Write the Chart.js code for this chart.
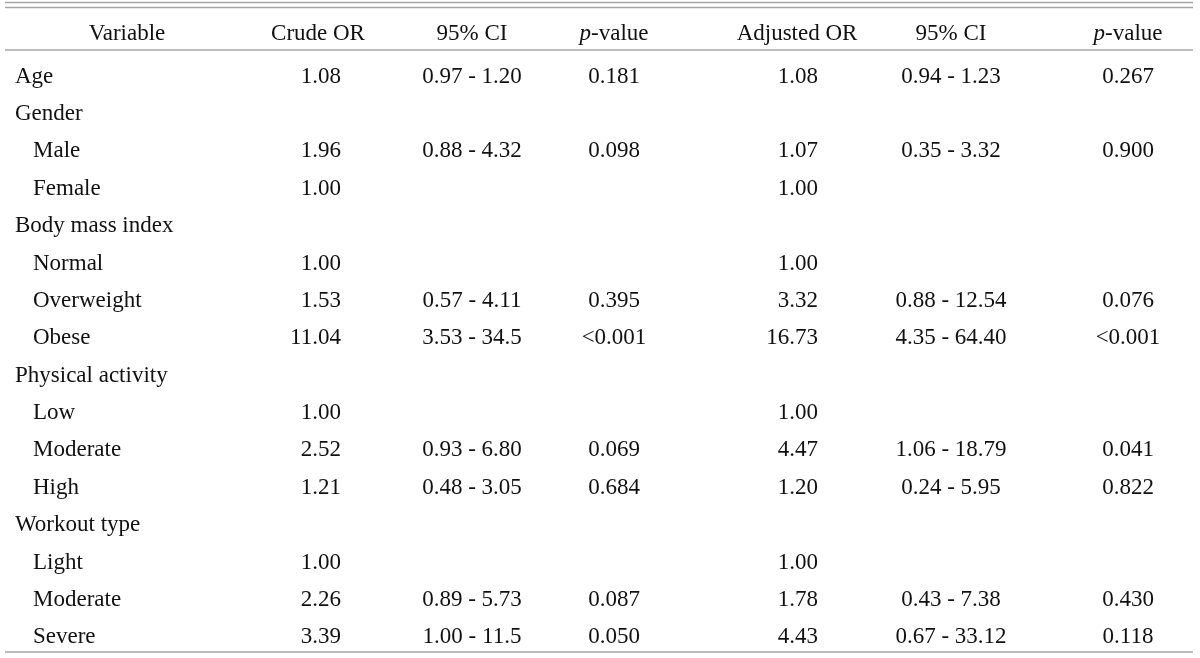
<!DOCTYPE html>
<html>
<head>
<meta charset="utf-8">
<script src="https://cdn.jsdelivr.net/npm/chart.js@4/dist/chart.umd.min.js"></script>
<style>
html,body{margin:0;padding:0;background:#fff}
#wrap{width:1200px;height:658px}
</style>
</head>
<body>
<div id="wrap"><canvas id="tbl" width="1200" height="658"></canvas></div>
<script>
// table content
const headers = ['Variable','Crude OR','95% CI','p-value','Adjusted OR','95% CI','p-value'];
const rowLabels = ['Age','Gender','Male','Female','Body mass index','Normal','Overweight','Obese',
  'Physical activity','Low','Moderate','High','Workout type','Light','Moderate','Severe'];
const subRow = [0,0,1,1,0,1,1,1,0,1,1,1,0,1,1,1];
const crudeOR = ['1.08','','1.96','1.00','','1.00','1.53','11.04','','1.00','2.52','1.21','','1.00','2.26','3.39'];
const crudeCI = ['0.97 - 1.20','','0.88 - 4.32','','','','0.57 - 4.11','3.53 - 34.5','','','0.93 - 6.80','0.48 - 3.05','','','0.89 - 5.73','1.00 - 11.5'];
const crudeP  = ['0.181','','0.098','','','','0.395','<0.001','','','0.069','0.684','','','0.087','0.050'];
const adjOR   = ['1.08','','1.07','1.00','','1.00','3.32','16.73','','1.00','4.47','1.20','','1.00','1.78','4.43'];
const adjCI   = ['0.94 - 1.23','','0.35 - 3.32','','','','0.88 - 12.54','4.35 - 64.40','','','1.06 - 18.79','0.24 - 5.95','','','0.43 - 7.38','0.67 - 33.12'];
const adjP    = ['0.267','','0.900','','','','0.076','<0.001','','','0.041','0.822','','','0.430','0.118'];

// layout (x in scale units = px)
const headX = [127,318,472,614,797,951,1128];
const cellX = [15,341,472,614,818,951,1128];
const cellAlign = ['left','right','center','center','right','center','center'];
const FONT = '"Liberation Serif","Times New Roman",serif';
const SIZE = 23;
const INK = '#111';
const DY = 2;

function drawHeader(ctx, txt, x, y){
  // "p-value" has an italic p
  if(txt==='p-value'){
    ctx.font = 'italic '+SIZE+'px '+FONT;
    let w1 = ctx.measureText('p').width;
    ctx.font = SIZE+'px '+FONT;
    let w2 = ctx.measureText('-value').width;
    let x0 = x-(w1+w2)/2;
    ctx.textAlign='left';
    ctx.font = 'italic '+SIZE+'px '+FONT;
    ctx.fillText('p', x0, y);
    ctx.font = SIZE+'px '+FONT;
    ctx.fillText('-value', x0+w1, y);
  } else {
    ctx.textAlign='center';
    ctx.font = SIZE+'px '+FONT;
    ctx.fillText(txt, x, y);
  }
}

const tablePlugin = {
  id:'tablePlugin',
  afterDraw(chart){
    const ctx = chart.ctx, xs = chart.scales.x, ys = chart.scales.y, ca = chart.chartArea;
    const cols = [rowLabels, crudeOR, crudeCI, crudeP, adjOR, adjCI, adjP];
    ctx.save();
    // rules
    ctx.strokeStyle = '#a6a6a6';
    ctx.lineWidth = 1.3;
    const x0 = xs.getPixelForValue(5), x1 = xs.getPixelForValue(1193);
    [2.5, 7.5, ys.getPixelForValue(-0.66), ca.bottom-2].forEach(y=>{
      ctx.beginPath(); ctx.moveTo(x0,y); ctx.lineTo(x1,y); ctx.stroke();
    });
    ctx.fillStyle = INK;
    ctx.textBaseline = 'middle';
    const hy = ys.getPixelForValue(-1.15)+DY;
    headers.forEach((h,c)=>drawHeader(ctx, h, xs.getPixelForValue(headX[c]), hy));
    ctx.font = SIZE+'px '+FONT;
    cols.forEach((col,c)=>{
      col.forEach((v,r)=>{
        if(!v) return;
        let x = xs.getPixelForValue(cellX[c] + (c===0 && subRow[r] ? 18 : 0));
        ctx.textAlign = cellAlign[c];
        ctx.fillText(v, x, ys.getPixelForValue(r)+DY);
      });
    });
    ctx.restore();
  }
};

new Chart(document.getElementById('tbl'), {
  type:'scatter',
  data:{ datasets:[{ data:[], pointRadius:0 }] },
  options:{
    responsive:false,
    animation:false,
    layout:{ padding:{ top:56, bottom:4, left:0, right:0 } },
    plugins:{ legend:{display:false}, tooltip:{enabled:false} },
    scales:{
      x:{ type:'linear', min:0, max:1200, display:false },
      y:{ type:'linear', min:-0.5, max:rowLabels.length-0.5, reverse:true, display:false }
    }
  },
  plugins:[tablePlugin]
});
</script>
</body>
</html>
